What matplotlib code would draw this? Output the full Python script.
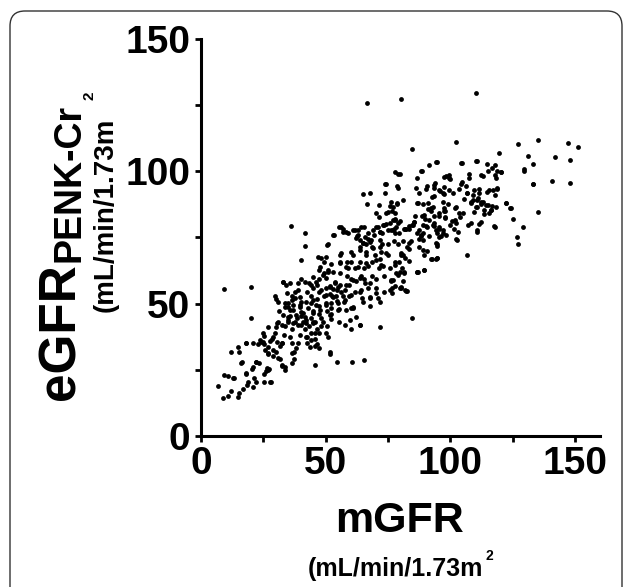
import matplotlib
matplotlib.use("Agg")
import matplotlib.pyplot as plt
import numpy as np
from matplotlib.patches import FancyBboxPatch
from matplotlib.transforms import IdentityTransform

plt.rcParams["font.family"] = ["Liberation Sans", "DejaVu Sans"]

W, H = 627, 587

# (mGFR, eGFR_PENK-Cr) pairs, grouped by region
outliers = [
    [66.4, 125.7], [80.4, 127.5], [110.3, 129.5], [84.7, 108.3], [102.4, 111.2],
    [127.3, 110.2], [135.3, 111.7], [147.3, 110.6], [151.1, 109.2], [142.0, 105.5],
    [148.0, 104.2], [140.9, 96.5], [148.0, 95.6], [133.2, 95.2], [135.3, 84.6],
    [129.2, 79.1], [126.8, 75.3], [127.3, 72.5], [106.5, 68.5], [36.0, 79.2],
    [41.9, 76.7], [41.9, 71.9], [9.1, 55.4], [20.0, 56.4], [20.0, 44.5],
    [84.7, 44.5], [54.7, 27.8], [60.7, 28.1], [65.5, 28.8], [45.6, 26.8],
    [82.0, 55.1], [80.0, 56.1], [61.1, 48.3], [60.3, 40.3], [63.6, 42.0],
    [51.7, 31.8], [51.7, 30.9], [45.9, 33.9], [131.2, 105.8], [133.2, 102.7],
    [129.7, 100.7], [119.3, 106.8], [125.2, 81.9], [122.4, 87.9], [124.0, 86.0],
    [117.7, 79.1],
]

low_pts = [
    [6.7, 18.8], [8.8, 14.5], [11.0, 15.1], [9.1, 23.0], [11.0, 22.6], [12.8, 21.9],
    [12.0, 31.8], [14.9, 33.8], [15.2, 31.8], [15.2, 16.2], [15.0, 14.8], [12.0, 16.9],
    [16.3, 28.1], [16.9, 17.7], [18.5, 19.4], [19.0, 20.5], [18.1, 23.6], [17.9, 35.3],
    [20.3, 25.4], [21.3, 21.9], [21.9, 27.8], [21.9, 20.5], [20.8, 18.4], [22.7, 34.6],
    [24.2, 35.7], [25.1, 34.6], [25.4, 37.7], [26.7, 31.1], [27.2, 25.4], [27.7, 20.5],
    [26.1, 24.7], [25.1, 23.3], [28.7, 32.5], [29.9, 31.8], [27.5, 36.0], [28.3, 36.7],
    [29.6, 38.8], [29.9, 41.0], [32.3, 26.4], [33.6, 26.1], [31.5, 29.0], [31.5, 33.9],
    [32.3, 35.3], [33.1, 38.1], [30.7, 43.1], [33.5, 41.7], [31.2, 47.3],
    [24.9, 38.8], [26.9, 41.1], [28.9, 37.5], [30.3, 35.6], [32.3, 35.0], [24.9, 35.6],
    [23.6, 36.3], [26.9, 33.7], [32.3, 26.8], [33.6, 24.9], [36.3, 27.4], [36.3, 31.2],
    [38.9, 35.0], [30.3, 42.6], [32.3, 41.9], [34.9, 43.2], [36.7, 42.8], [32.9, 45.7],
    [35.6, 45.3], [30.9, 50.7], [34.9, 48.8], [36.9, 49.5], [39.6, 38.2], [42.3, 37.5],
    [44.3, 36.3], [43.6, 33.7], [45.6, 38.8], [42.3, 43.8], [40.3, 41.9], [44.9, 42.6],
    [25.6, 32.5], [26.9, 31.3], [28.9, 30.2], [30.9, 29.3], [26.3, 25.6], [26.9, 24.9],
    [28.0, 20.5], [25.3, 20.5], [22.0, 28.1], [23.3, 27.4], [20.7, 26.2], [18.0, 23.7],
    [16.0, 27.7], [13.2, 21.8], [18.0, 35.0], [20.9, 35.0],
]

mid_pts = [
    [29.6, 53.0], [29.9, 51.6], [32.8, 58.3], [33.9, 57.2], [37.1, 29.2], [37.1, 31.8],
    [37.9, 33.2], [36.3, 35.3], [35.5, 37.4], [36.3, 40.3], [34.7, 43.8], [37.6, 43.1],
    [37.9, 45.9], [35.5, 47.6], [33.5, 48.7], [34.7, 50.1], [36.3, 53.0], [38.7, 55.1],
    [37.6, 52.3], [39.9, 50.8], [39.5, 48.7], [40.3, 45.2], [41.1, 43.1], [41.9, 40.3],
    [39.9, 59.3], [39.9, 66.4], [41.1, 46.6], [42.4, 37.4], [42.7, 35.3], [43.5, 41.7],
    [44.0, 39.1], [44.3, 44.5], [45.1, 47.3], [44.3, 50.1], [44.3, 53.0], [45.1, 55.8],
    [43.5, 57.9], [42.7, 54.4], [45.9, 43.1], [46.4, 40.3], [45.9, 36.7], [46.7, 34.6],
    [47.5, 33.2], [47.2, 38.8], [48.3, 41.7], [48.8, 43.1], [47.5, 46.2], [47.5, 49.0],
    [46.7, 51.6], [47.5, 54.4], [46.7, 57.2], [47.5, 59.3], [47.5, 62.9], [48.3, 67.1],
    [49.5, 65.7], [49.5, 61.4], [50.0, 55.8], [49.5, 53.0], [50.0, 50.1], [50.7, 47.3],
    [50.7, 41.7], [50.0, 38.8], [51.1, 37.4], [52.0, 44.1], [52.3, 46.2], [52.3, 50.1],
    [52.7, 53.0], [53.1, 55.5], [53.6, 57.9], [51.6, 56.5], [51.6, 53.7], [51.1, 62.1],
    [53.1, 75.8], [52.3, 65.0], [50.7, 72.0], [54.3, 53.0], [54.7, 55.1], [54.7, 51.0],
    [55.2, 48.0], [55.2, 43.1], [55.9, 57.2], [55.9, 61.4], [55.9, 65.7], [55.9, 68.5],
    [55.5, 79.1], [56.8, 78.1], [57.1, 53.0], [57.5, 50.8], [57.9, 55.1], [58.4, 60.3],
    [58.7, 65.7], [59.1, 63.6], [59.5, 57.2], [59.5, 53.0], [60.3, 59.5], [60.3, 48.3],
    [61.1, 68.5], [61.6, 63.3], [61.6, 54.4], [62.0, 58.6], [62.4, 75.4], [62.8, 77.7],
    [63.6, 71.3], [63.6, 65.7], [64.0, 60.3], [64.0, 55.1], [64.4, 52.3], [65.2, 59.3],
    [65.5, 63.3], [66.0, 68.5], [66.0, 72.7], [65.5, 79.1], [66.8, 74.3], [67.1, 64.1],
    [67.6, 57.9], [67.6, 52.3], [67.6, 49.0], [68.4, 60.3], [68.4, 65.7], [68.7, 71.3],
    [69.2, 75.8], [69.6, 68.5], [70.0, 59.3], [70.3, 55.8], [70.8, 52.3], [71.3, 63.3],
    [71.6, 66.9], [71.9, 71.3], [72.4, 76.8], [72.4, 72.4], [72.8, 64.3], [73.2, 60.3],
    [73.2, 54.4], [73.5, 79.8], [74.0, 84.1], [74.2, 80.1], [74.8, 72.4], [75.1, 68.5],
    [75.6, 63.3], [76.0, 58.6], [76.4, 55.8],
    # densest patch, read at higher zoom
    [56.0, 79.1], [53.2, 75.9], [56.9, 77.2], [58.9, 76.6], [50.9, 72.5], [56.3, 69.3],
    [46.9, 67.5], [50.3, 67.5], [61.6, 77.8], [64.3, 78.8], [66.9, 76.6], [70.3, 79.1],
    [71.6, 77.2], [62.3, 74.7], [64.9, 72.8], [67.6, 73.4], [71.6, 74.0], [60.3, 69.6],
    [63.6, 70.3], [66.3, 69.6], [68.9, 70.9], [72.3, 69.6], [74.3, 69.0], [55.6, 65.2],
    [58.3, 64.0], [60.3, 65.8], [62.9, 64.0], [66.3, 65.2], [70.3, 66.5], [72.3, 64.6],
    [47.6, 64.0], [50.9, 62.7], [52.9, 62.1], [48.9, 60.8], [44.9, 60.2], [46.0, 58.3],
    [44.3, 57.0], [41.6, 58.3], [38.9, 57.7], [35.6, 57.7], [32.9, 58.3], [50.3, 59.6],
    [53.6, 58.3], [54.9, 56.4], [51.6, 56.4], [48.3, 55.2], [50.3, 53.3], [52.9, 52.6],
    [56.3, 54.5], [58.3, 57.0], [60.9, 58.9], [63.6, 59.6], [65.6, 57.7], [66.9, 55.8],
    [63.6, 54.5], [60.3, 53.3], [57.6, 51.4], [67.6, 52.6], [70.3, 53.9], [71.6, 50.7],
    [64.9, 50.7], [34.3, 53.9], [37.6, 54.5], [39.6, 52.6], [36.3, 51.4], [33.6, 50.1],
    [39.6, 49.5], [42.3, 50.7], [44.9, 51.4], [46.3, 49.5], [42.9, 48.2], [40.3, 47.0],
    [36.9, 47.6], [34.9, 45.1], [38.3, 44.5], [41.6, 45.1], [44.9, 46.4], [47.6, 47.6],
    [50.3, 49.5], [52.3, 48.2], [54.9, 50.1], [54.9, 47.6], [51.6, 45.7], [48.3, 44.5],
    [44.9, 43.2], [42.3, 42.6], [38.9, 41.9], [58.3, 47.6], [60.9, 48.9], [62.3, 45.1],
    [59.6, 43.8], [57.6, 41.9], [63.6, 41.9], [71.6, 41.3],
]

high_pts = [
    [110.3, 103.8], [104.4, 103.0], [114.5, 102.7], [118.0, 102.4], [94.4, 103.5],
    [91.6, 102.4], [88.4, 100.0], [118.8, 100.1], [120.4, 99.6], [77.6, 99.9],
    [79.0, 98.9], [74.0, 95.1], [78.5, 94.4], [64.8, 91.4], [67.6, 91.8], [71.3, 87.1],
    [78.5, 87.6],
    [77.2, 73.8], [77.2, 78.1], [77.6, 81.9], [77.9, 65.7], [78.3, 61.4], [78.8, 72.4],
    [79.2, 76.8], [79.6, 81.2], [80.4, 68.5], [80.8, 63.3], [81.2, 58.6], [81.2, 73.8],
    [82.0, 67.1], [82.4, 78.1], [82.8, 71.3], [83.6, 66.1], [84.4, 73.8], [85.2, 79.8],
    [86.0, 83.3], [86.8, 76.8], [86.8, 62.1], [87.6, 71.3], [88.4, 75.4], [89.2, 79.8],
    [89.2, 87.6], [89.5, 62.9], [90.0, 82.1], [90.4, 93.2], [90.8, 69.9], [91.6, 75.4],
    [92.4, 66.9], [92.4, 86.2], [93.2, 79.8], [93.6, 90.7], [94.0, 95.6], [94.3, 66.9],
    [94.8, 71.6], [95.6, 83.3], [95.9, 92.4], [96.4, 75.4], [96.9, 76.8], [97.2, 88.6],
    [97.5, 94.2], [98.0, 82.6], [98.4, 98.2], [99.1, 87.8], [99.6, 97.5], [100.0, 79.8],
    [100.7, 81.2], [101.2, 91.8], [102.0, 86.2], [102.4, 74.3], [103.2, 77.2],
    [104.0, 82.8], [104.4, 95.3], [105.2, 84.1], [105.5, 89.7], [106.5, 91.8],
    [107.1, 79.8], [107.6, 98.9], [108.1, 80.4], [108.4, 87.9], [109.2, 91.1],
    [109.6, 84.7], [110.8, 89.0], [111.6, 93.2], [112.4, 87.6], [113.2, 98.2],
    [113.6, 85.4], [114.8, 92.2], [115.1, 100.0], [116.1, 85.4], [116.7, 87.0],
    [117.7, 91.1], [118.0, 98.5], [118.8, 93.6],
    # upper band, read at higher zoom
    [94.5, 103.6], [79.6, 98.9], [88.7, 100.1], [86.5, 97.4], [73.6, 95.1],
    [78.9, 93.8], [73.6, 91.7], [86.3, 93.6], [87.6, 91.7], [90.5, 94.6], [93.6, 94.8],
    [96.9, 91.7], [97.6, 98.0], [66.7, 87.5], [76.9, 86.6], [78.5, 88.1], [86.5, 87.9],
    [90.9, 87.9], [92.9, 86.6], [70.0, 84.4], [71.3, 82.9], [74.9, 84.7], [76.7, 85.1],
    [75.6, 86.9], [77.6, 84.4], [90.9, 85.6], [93.6, 83.1], [95.3, 84.1], [98.0, 85.1],
    [89.6, 83.5], [91.6, 81.6], [93.6, 80.4], [95.6, 78.4], [77.6, 81.6], [78.9, 80.4],
    [75.6, 80.4], [72.9, 79.7], [70.9, 79.1], [68.9, 77.8], [71.6, 77.2], [74.9, 77.8],
    [76.9, 77.8], [81.6, 78.4], [83.6, 79.3], [85.6, 80.9], [87.6, 77.8], [88.3, 75.9],
    [88.9, 74.0], [90.5, 79.1], [94.3, 77.8], [95.6, 75.3], [98.3, 75.9], [94.3, 72.8],
    [60.9, 77.8], [62.9, 75.9], [63.6, 74.0], [65.6, 75.3], [64.9, 72.8], [68.3, 74.0],
    [58.3, 77.2], [133.3, 95.2], [129.6, 100.2], [104.5, 103.3], [110.5, 103.9],
    [116.7, 101.1], [120.3, 99.8], [118.3, 97.3], [99.3, 98.6], [99.9, 97.1],
    [107.6, 97.4], [112.3, 98.6], [104.5, 96.1], [106.3, 94.4], [109.6, 92.9],
    [111.3, 91.7], [103.6, 93.2], [106.5, 91.7], [99.6, 92.9], [97.6, 91.4], [92.7, 90.2],
    [93.6, 93.6], [95.3, 92.9], [115.6, 92.9], [117.0, 92.9], [118.5, 93.2], [108.9, 89.2],
    [110.9, 89.8], [112.9, 88.5], [114.9, 87.3], [122.3, 88.1], [124.3, 86.0],
    [110.3, 86.4], [102.3, 86.4], [97.6, 86.0],
    [117.6, 79.3], [115.6, 84.1], [116.3, 85.4], [118.3, 86.6], [114.3, 87.3],
    [112.3, 88.5], [110.5, 86.6], [108.3, 88.5], [113.6, 83.9], [112.3, 81.0],
    [111.3, 80.1], [110.5, 77.8], [110.5, 76.9], [103.3, 84.1], [102.0, 81.6],
    [102.3, 80.4], [101.6, 78.1], [102.5, 74.0], [97.6, 84.9], [98.0, 82.3], [96.9, 77.8],
    [95.6, 79.1], [94.5, 76.6], [93.6, 79.3], [94.5, 72.4], [92.3, 85.1], [88.7, 83.1],
    [90.3, 79.3], [88.9, 76.6], [87.6, 74.3], [85.6, 81.0], [84.7, 79.7], [83.6, 78.4],
    [82.0, 78.1], [83.6, 73.0], [83.6, 70.6], [88.9, 70.3], [89.6, 68.4], [92.7, 66.9],
    [94.5, 67.1], [89.6, 62.7], [86.5, 62.1], [80.3, 69.0], [80.9, 68.4], [79.3, 65.8],
    [77.6, 64.6], [79.6, 62.1], [78.9, 60.8], [81.6, 62.1], [76.3, 58.9], [80.3, 56.2],
    [82.3, 54.9], [77.6, 56.7], [76.7, 54.1], [77.6, 76.6], [76.3, 77.8], [78.3, 79.1],
    [76.9, 81.6], [76.3, 88.5], [86.9, 87.9], [80.9, 89.2], [94.7, 67.1], [86.9, 62.1],
    [82.5, 54.8], [79.6, 55.8], [75.6, 55.2], [76.9, 58.9], [81.6, 61.7],
]

pts = np.array(outliers + low_pts + mid_pts + high_pts)
mgfr = pts[:, 0]
egfr = pts[:, 1]

x_ticks = [0, 50, 100, 150]
y_ticks = [0, 50, 100, 150]


def fx(px):
    return px / W


def fy(py):
    return 1 - py / H


fig = plt.figure(figsize=(W / 100, H / 100), dpi=100)
ax = fig.add_axes([fx(201), fy(436), 399 / W, 397 / H])
ax.scatter(mgfr, egfr, s=12, c="black", linewidths=0)

ax.set_xlim(0, 160)
ax.set_ylim(0, 150)
ax.set_xticks(x_ticks)
ax.set_xticks([25, 75, 125], minor=True)
ax.set_yticks(y_ticks)
ax.set_yticks([25, 75, 125], minor=True)
for s in ("top", "right"):
    ax.spines[s].set_visible(False)
for s in ("left", "bottom"):
    ax.spines[s].set_linewidth(2.2)
ax.tick_params(which="both", direction="out", length=4.5, width=2,
               labelsize=28, pad=3)
for lab in ax.get_xticklabels() + ax.get_yticklabels():
    lab.set_fontweight("bold")

# axis titles
fig.text(fx(400), fy(521), "mGFR", ha="center", va="center",
         fontsize=31, fontweight="bold")
fig.text(fx(308), fy(569), "(mL/min/1.73m", ha="left", va="center",
         fontsize=18, fontweight="bold")
fig.text(fx(485), fy(556), "2", ha="left", va="center",
         fontsize=10, fontweight="bold")

fig.text(fx(61), fy(400), "eGFR", rotation=90, ha="center", va="bottom",
         fontsize=37, fontweight="bold")
fig.text(fx(69), fy(262), "PENK-Cr", rotation=90, ha="center", va="bottom",
         fontsize=27, fontweight="bold")
fig.text(fx(106), fy(312), "(mL/min/1.73m", rotation=90, ha="center",
         va="bottom", fontsize=20, fontweight="bold")
fig.text(fx(90), fy(100), "2", rotation=90, ha="center", va="bottom",
         fontsize=11, fontweight="bold")

# rounded panel frame
frame = FancyBboxPatch((10, -20), 612, H - 11 + 20,
                       boxstyle="round,pad=0,rounding_size=15",
                       transform=IdentityTransform(), fill=False,
                       lw=1.0, ec="#333333")
fig.patches.append(frame)

fig.savefig("out.png", dpi=100)
